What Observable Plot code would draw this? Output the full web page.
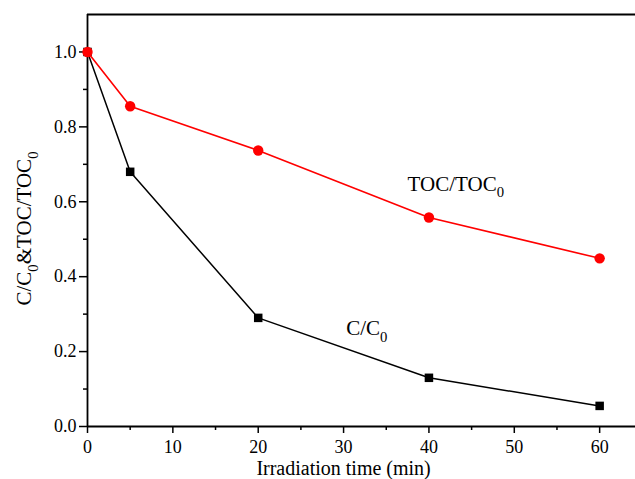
<!DOCTYPE html>
<html><head><meta charset="utf-8">
<script src="https://cdn.jsdelivr.net/npm/d3@7"></script>
<script src="https://cdn.jsdelivr.net/npm/@observablehq/plot@0.6"></script>
<style>body{margin:0;background:#fff} svg, svg text{font-family:"Liberation Serif","Times New Roman",serif !important}</style>
</head><body><div id="chart"></div>
<script>
const time = [0, 5, 20, 40, 60];
const cRatio = [1.0, 0.68, 0.29, 0.13, 0.055];
const tocRatio = [1.0, 0.855, 0.737, 0.558, 0.449];
const xTicks = [0, 10, 20, 30, 40, 50, 60];
const xMinorTicks = [5, 15, 25, 35, 45, 55];
const yTicks = [0, 0.2, 0.4, 0.6, 0.8, 1.0];
const yMinorTicks = [0.1, 0.3, 0.5, 0.7, 0.9];
const seriesLabels = ["C/C₀", "TOC/TOC₀"];
const labelX = [30.3, 37.5];
const labelY = [0.243, 0.63];
const xTitle = "Irradiation time (min)";
const yTitle = "C/C₀&TOC/TOC₀";

const cData = time.map((t, i) => ({t, v: cRatio[i]}));
const tocData = time.map((t, i) => ({t, v: tocRatio[i]}));
const labels = seriesLabels.map((s, i) => ({s, x: labelX[i], y: labelY[i]}));

const chart = Plot.plot({
  width: 635,
  height: 479,
  marginLeft: 87,
  marginRight: 0,
  marginTop: 14,
  marginBottom: 53,
  style: {background: "white", color: "black", fontFamily: "'Liberation Serif', serif", fontSize: "18px"},
  x: {domain: [0, 64.2]},
  y: {domain: [0, 1.1]},
  marks: [
    Plot.axisX({ticks: xTicks, tickSize: 7, tickPadding: 7, strokeWidth: 1.5, label: null, fontSize: 18}),
    Plot.axisX({ticks: xMinorTicks, tickSize: 4, strokeWidth: 1.5, text: null, label: null}),
    Plot.axisY({ticks: yTicks, tickSize: 8, tickPadding: 3, strokeWidth: 1.5, label: null, tickFormat: d3.format(".1f"), fontSize: 18}),
    Plot.axisY({ticks: yMinorTicks, tickSize: 4, strokeWidth: 1.5, text: null, label: null}),
    Plot.ruleX([0], {stroke: "black", strokeWidth: 1.8}),
    Plot.ruleY([0], {stroke: "black", strokeWidth: 1.8}),
    Plot.ruleY([1.1], {stroke: "black", strokeWidth: 2}),
    Plot.line(cData, {x: "t", y: "v", stroke: "black", strokeWidth: 1.5}),
    Plot.dot(cData, {x: "t", y: "v", symbol: "square", r: 4.8, fill: "black", stroke: "none"}),
    Plot.line(tocData, {x: "t", y: "v", stroke: "red", strokeWidth: 1.6}),
    Plot.dot(tocData, {x: "t", y: "v", r: 5.2, fill: "red", stroke: "none"}),
    Plot.text(labels, {x: "x", y: "y", text: "s", textAnchor: "start", lineAnchor: "bottom", fontSize: 21, fill: "black"}),
    Plot.text([xTitle], {x: () => (xTicks[0] + xTicks[xTicks.length - 1]) / 2, frameAnchor: "bottom", dy: 48.5, lineAnchor: "bottom", textAnchor: "middle", text: d => d, fontSize: 20, fill: "black"}),
    Plot.text([yTitle], {frameAnchor: "left", rotate: -90, dx: -63, dy: 8, textAnchor: "middle", text: d => d, fontSize: 21, fill: "black"})
  ]
});
document.getElementById("chart").appendChild(chart);

// render "₀" as a real subscript 0
chart.querySelectorAll("text").forEach(t => {
  const s = t.textContent;
  if (!s.includes("₀")) return;
  const fs = parseFloat(getComputedStyle(t).fontSize);
  const parts = s.split("₀");
  while (t.firstChild) t.removeChild(t.firstChild);
  const ns = "http://www.w3.org/2000/svg";
  parts.forEach((p, i) => {
    if (p) {
      const a = document.createElementNS(ns, "tspan");
      a.textContent = p;
      if (i > 0) a.setAttribute("dy", -0.3 * fs);
      t.appendChild(a);
    }
    if (i < parts.length - 1) {
      const b = document.createElementNS(ns, "tspan");
      b.textContent = "0";
      b.setAttribute("font-size", 0.7 * fs);
      b.setAttribute("dy", 0.3 * fs);
      t.appendChild(b);
    }
  });
});
</script>
</body></html>
